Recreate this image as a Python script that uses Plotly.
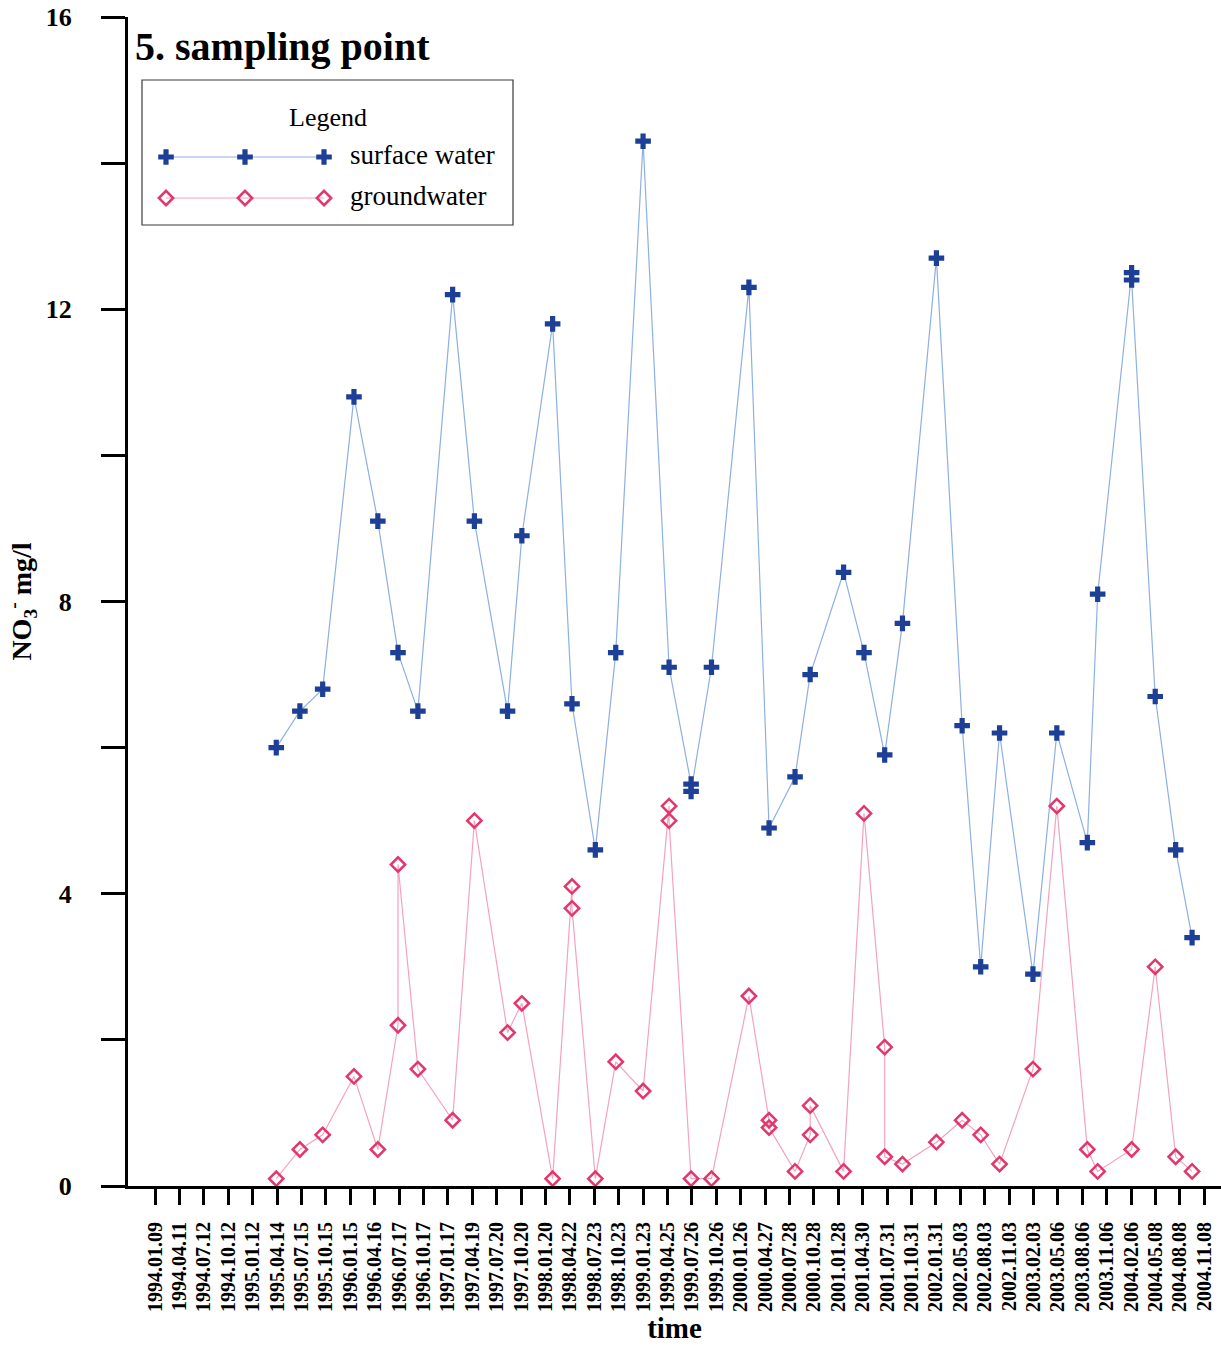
import plotly.graph_objects as go

# Quarterly axis ticks (92-day spacing)
tick_labels = [
    "1994.01.09", "1994.04.11", "1994.07.12", "1994.10.12",
    "1995.01.12", "1995.04.14", "1995.07.15", "1995.10.15",
    "1996.01.15", "1996.04.16", "1996.07.17", "1996.10.17",
    "1997.01.17", "1997.04.19", "1997.07.20", "1997.10.20",
    "1998.01.20", "1998.04.22", "1998.07.23", "1998.10.23",
    "1999.01.23", "1999.04.25", "1999.07.26", "1999.10.26",
    "2000.01.26", "2000.04.27", "2000.07.28", "2000.10.28",
    "2001.01.28", "2001.04.30", "2001.07.31", "2001.10.31",
    "2002.01.31", "2002.05.03", "2002.08.03", "2002.11.03",
    "2003.02.03", "2003.05.06", "2003.08.06", "2003.11.06",
    "2004.02.06", "2004.05.08", "2004.08.08", "2004.11.08",
]
tick_dates = [s.replace(".", "-") for s in tick_labels]

# Surface water NO3- (mg/l)
surface_dates = [
    "1995-04-11", "1995-07-09", "1995-10-03", "1996-01-29", "1996-04-28",
    "1996-07-13", "1996-09-26", "1997-02-04", "1997-04-27", "1997-08-30",
    "1997-10-23", "1998-02-16", "1998-04-30", "1998-07-27", "1998-10-12",
    "1999-01-23", "1999-05-01", "1999-07-23", "1999-07-23", "1999-10-08",
    "2000-02-26", "2000-05-12", "2000-08-18", "2000-10-14", "2001-02-17",
    "2001-05-05", "2001-07-22", "2001-09-27", "2002-02-02", "2002-05-10",
    "2002-07-19", "2002-09-28", "2003-02-01", "2003-05-02", "2003-08-25",
    "2003-10-03", "2004-02-08", "2004-02-08", "2004-05-07", "2004-07-23",
    "2004-09-23",
]
surface_no3 = [
    6.0, 6.5, 6.8, 10.8, 9.1,
    7.3, 6.5, 12.2, 9.1, 6.5,
    8.9, 11.8, 6.6, 4.6, 7.3,
    14.3, 7.1, 5.5, 5.4, 7.1,
    12.3, 4.9, 5.6, 7.0, 8.4,
    7.3, 5.9, 7.7, 12.7, 6.3,
    3.0, 6.2, 2.9, 6.2, 4.7,
    8.1, 12.5, 12.4, 6.7, 4.6,
    3.4,
]

# Groundwater NO3- (mg/l)
ground_dates = [
    "1995-04-11", "1995-07-09", "1995-10-03", "1996-01-29", "1996-04-28",
    "1996-07-13", "1996-07-13", "1996-09-26", "1997-02-04", "1997-04-27",
    "1997-08-30", "1997-10-23", "1998-02-16", "1998-04-30", "1998-04-30",
    "1998-07-27", "1998-10-12", "1999-01-23", "1999-05-01", "1999-05-01",
    "1999-07-23", "1999-10-08", "2000-02-26", "2000-05-12", "2000-05-12",
    "2000-08-18", "2000-10-14", "2000-10-14", "2001-02-17", "2001-05-05",
    "2001-07-22", "2001-07-22", "2001-09-27", "2002-02-02", "2002-05-10",
    "2002-07-19", "2002-09-28", "2003-02-01", "2003-05-02", "2003-08-25",
    "2003-10-03", "2004-02-08", "2004-05-07", "2004-07-23", "2004-09-23",
]
ground_no3 = [
    0.1, 0.5, 0.7, 1.5, 0.5,
    2.2, 4.4, 1.6, 0.9, 5.0,
    2.1, 2.5, 0.1, 4.1, 3.8,
    0.1, 1.7, 1.3, 5.2, 5.0,
    0.1, 0.1, 2.6, 0.9, 0.8,
    0.2, 0.7, 1.1, 0.2, 5.1,
    1.9, 0.4, 0.3, 0.6, 0.9,
    0.7, 0.3, 1.6, 5.2, 0.5,
    0.2, 0.5, 3.0, 0.4, 0.2,
]

y_major = [0, 4, 8, 12, 16]

# Styling
SERIF = "Liberation Serif"
SURF_MARK, SURF_LINE = "#1d3f95", "#8db0e2"
GW_MARK, GW_LINE = "#e3366c", "#f3a3bf"

W, H = 1221, 1348
ML, MR, MT, MB = 128, 0, 17, 162
PW, PH = W - ML - MR, H - MT - MB


def px_x(px):
    return (px - ML) / PW


def px_y(py):
    return (H - MB - py) / PH


surf_marker = dict(symbol="cross", size=13, color=SURF_MARK)
gw_marker = dict(symbol="diamond-open", size=11, color=GW_MARK,
                 line=dict(width=2.5, color=GW_MARK))

fig = go.Figure()
fig.add_trace(go.Scatter(
    x=surface_dates, y=surface_no3, mode="lines+markers",
    name="surface water", showlegend=False,
    line=dict(color=SURF_LINE, width=1.2), marker=surf_marker,
))
fig.add_trace(go.Scatter(
    x=ground_dates, y=ground_no3, mode="lines+markers",
    name="groundwater", showlegend=False,
    line=dict(color=GW_LINE, width=1.2), marker=gw_marker,
))

# Boxed legend with three sample symbols per entry, drawn in its own
# small overlay coordinate system (pixel-like units inside the box)
box_x0, box_x1, box_y0, box_y1 = 142, 513, 80, 225
key_x = [166, 245, 324]
key_rows = [("surface water", 157, surf_marker, SURF_LINE),
            ("groundwater", 198, gw_marker, GW_LINE)]
for label, ky, mk, lc in key_rows:
    fig.add_trace(go.Scatter(
        x=key_x, y=[ky] * len(key_x), mode="lines+markers",
        xaxis="x2", yaxis="y2", showlegend=False, hoverinfo="skip",
        line=dict(color=lc, width=1.2), marker=mk,
    ))

fig.add_shape(type="rect", xref="paper", yref="paper",
              x0=px_x(box_x0), x1=px_x(box_x1), y0=px_y(box_y1), y1=px_y(box_y0),
              line=dict(color="#3a3a3a", width=1.2), fillcolor="rgba(0,0,0,0)")

fig.add_annotation(x=328, y=118, xref="x2", yref="y2", text="Legend",
                   showarrow=False, xanchor="center", yanchor="middle",
                   font=dict(family=SERIF, size=26, color="black"))
for label, ky, mk, lc in key_rows:
    fig.add_annotation(x=348, y=ky - 2, xref="x2", yref="y2", text=label,
                       showarrow=False, xanchor="left", yanchor="middle",
                       font=dict(family=SERIF, size=27, color="black"))

fig.update_layout(
    width=W, height=H,
    margin=dict(l=ML, r=MR, t=MT, b=MB, autoexpand=False),
    paper_bgcolor="white", plot_bgcolor="rgba(0,0,0,0)",
    template="none",
    showlegend=False,
    title=dict(text="5. sampling point", xref="container", yref="container",
               x=135 / W, xanchor="left", y=1 - 46 / H, yanchor="middle",
               font=dict(family=SERIF, size=40, color="black", weight="bold")),
    xaxis=dict(
        type="date", range=["1993-09-29", "2005-01-10"],
        showline=True, linewidth=3, linecolor="black",
        showgrid=False, zeroline=False,
        ticks="outside", ticklen=16, tickwidth=3, tickcolor="black",
        tickvals=tick_dates, ticktext=tick_labels, tickangle=-90,
        ticklabelstandoff=9,
        tickfont=dict(family=SERIF, size=20, color="black", weight="bold"),
        title=dict(text="time", standoff=0,
                   font=dict(family=SERIF, size=29, color="black", weight="bold")),
        automargin=False,
    ),
    yaxis=dict(
        range=[0, 16],
        showline=True, linewidth=3, linecolor="black",
        showgrid=False, zeroline=False,
        ticks="outside", ticklen=24, tickwidth=2.5, tickcolor="black",
        tickvals=y_major, ticklabelstandoff=24,
        minor=dict(dtick=2, ticks="outside", ticklen=24, tickwidth=2.5,
                   tickcolor="black", showgrid=False),
        tickfont=dict(family=SERIF, size=26, color="black", weight="bold"),
        title=dict(text="NO<sub>3</sub><sup>-</sup> mg/l", standoff=6,
                   font=dict(family=SERIF, size=28, color="black", weight="bold")),
        automargin=False,
    ),
    xaxis2=dict(domain=[px_x(box_x0), px_x(box_x1)], range=[box_x0, box_x1],
                anchor="y2", visible=False, fixedrange=True),
    yaxis2=dict(domain=[px_y(box_y1), px_y(box_y0)], range=[box_y1, box_y0],
                anchor="x2", visible=False, fixedrange=True),
)

fig.write_html("out.html")
